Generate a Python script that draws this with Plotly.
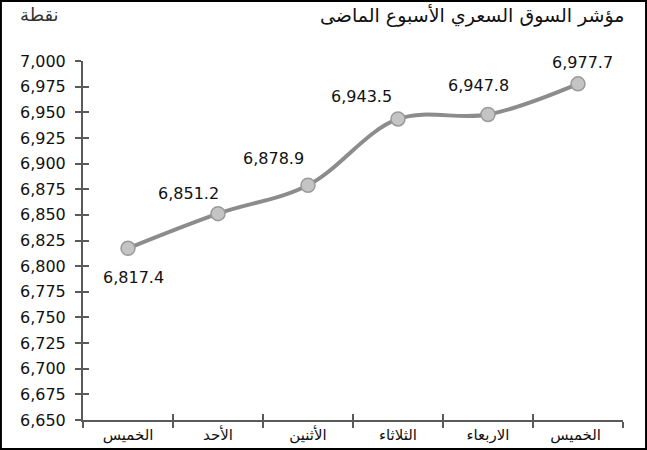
import plotly.graph_objects as go

categories = ["الخميس", "الأحد", "الأثنين", "الثلاثاء", "الاربعاء", "الخميس "]
values = [6817.4, 6851.2, 6878.9, 6943.5, 6947.8, 6977.7]
labels = ["6,817.4", "6,851.2", "6,878.9", "6,943.5", "6,947.8", "6,977.7"]
title_text = "مؤشر السوق السعري الأسبوع الماضى"
unit_text = "نقطة"

# label offsets (pixels) relative to each point — styling only
label_dx = [5, -30, -35, -37, -10, 4]
label_dy = [-29, 20, 27, 22, 29, 21]

axis_col = "#5a5a5a"
num_font = "DejaVu Sans, sans-serif"
xr = [-0.5, len(categories) - 0.5]

fig = go.Figure()
fig.add_trace(go.Scatter(
    x=categories, y=values, mode="lines+markers",
    line=dict(color="#8c8c8c", width=4, shape="spline", smoothing=1.0),
    marker=dict(size=14, color="#c4c4c4", line=dict(color="#9a9a9a", width=1.5)),
    cliponaxis=False, showlegend=False,
))
# invisible trace on overlaid axes for crossing tick marks
fig.add_trace(go.Scatter(x=categories, y=values, xaxis="x2", yaxis="y2",
                         mode="markers", marker=dict(opacity=0), showlegend=False, hoverinfo="skip"))

annotations = []
for c, v, t, dx, dy in zip(categories, values, labels, label_dx, label_dy):
    annotations.append(dict(x=c, y=v, text=t, showarrow=False, xshift=dx, yshift=dy,
                            font=dict(size=16, family=num_font, color="#111")))
annotations += [
    dict(text=title_text, xref="paper", yref="paper", x=1.0056, y=1.128, xanchor="right",
         yanchor="middle", showarrow=False, font=dict(size=19, family="DejaVu Sans, sans-serif", color="#111")),
    dict(text=unit_text, xref="paper", yref="paper", x=-0.08, y=1.13, xanchor="center",
         yanchor="middle", showarrow=False, font=dict(size=18, family="DejaVu Sans, sans-serif", color="#333")),
]

fig.update_layout(
    width=647, height=450,
    margin=dict(l=83, r=24, t=61, b=30, autoexpand=False),
    paper_bgcolor="white", plot_bgcolor="white",
    font=dict(family=num_font, color="#111"),
    xaxis=dict(type="category", range=xr, autorange=False, showgrid=False, showline=True,
               linecolor=axis_col, linewidth=2,
               ticks="outside", tickson="boundaries", ticklen=6, tickwidth=2, tickcolor=axis_col,
               automargin=False,
               tickfont=dict(size=15, family="DejaVu Sans, sans-serif", color="#111"), zeroline=False),
    yaxis=dict(range=[6650, 7000], dtick=25, tickformat=",d", showgrid=False, showline=True,
               linecolor=axis_col, linewidth=2, ticks="outside", ticklen=6, tickwidth=2,
               automargin=False, ticklabelstandoff=6,
               tickcolor=axis_col, tickfont=dict(size=16, family=num_font, color="#111"), zeroline=False),
    xaxis2=dict(type="category", overlaying="x", range=xr, autorange=False, showgrid=False,
                showline=False, ticks="inside", tickson="boundaries", ticklen=6, tickwidth=2,
                tickcolor=axis_col, showticklabels=False, side="bottom", anchor="y2", automargin=False),
    yaxis2=dict(overlaying="y", range=[6650, 7000], showgrid=False, showline=False, ticks="inside",
                ticklen=6, tickwidth=2, tickcolor=axis_col, showticklabels=False, dtick=25,
                anchor="x2", zeroline=False, automargin=False),
    annotations=annotations,
    shapes=[dict(type="rect", xref="paper", yref="paper", x0=-0.152, x1=1.0427, y0=-0.0808, y1=1.167,
                 line=dict(color="black", width=2), layer="above")],
)
fig.write_html("out.html", config={"displayModeBar": False},
               post_script="document.body.style.margin='0';")
